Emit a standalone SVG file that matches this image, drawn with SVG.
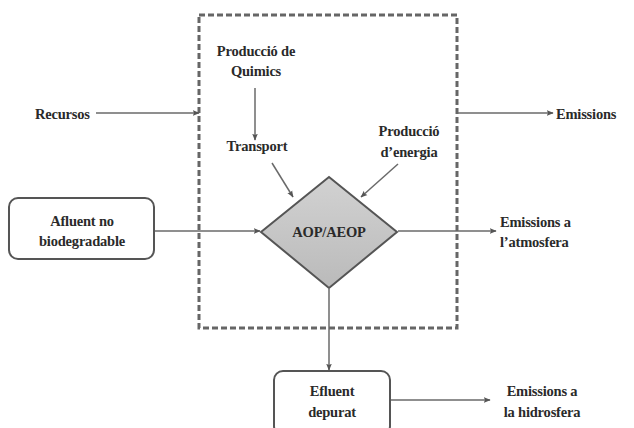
<svg xmlns="http://www.w3.org/2000/svg" width="634" height="428" viewBox="0 0 634 428">
  <style>
    .t { font-family: "Liberation Serif", "DejaVu Serif", serif; font-weight: bold; font-size: 14.5px; fill: #2a2a2a; text-anchor: middle; letter-spacing: -0.2px; }
    .ts { font-family: "Liberation Serif", "DejaVu Serif", serif; font-weight: bold; font-size: 14.5px; fill: #2a2a2a; text-anchor: start; letter-spacing: -0.2px; }
    .c { stroke: #6a6a6a; stroke-width: 1.5; fill: none; marker-end: url(#ah); }
    .box { fill: #fff; stroke: #555; stroke-width: 2; }
  </style>
  <defs>
    <marker id="ah" viewBox="0 0 10 10" refX="9" refY="5" markerWidth="7" markerHeight="7" orient="auto" markerUnits="userSpaceOnUse">
      <path d="M0,1 L10,5 L0,9 L2,5 Z" fill="#555"/>
    </marker>
    <linearGradient id="dg" x1="0" y1="0" x2="0" y2="1">
      <stop offset="0" stop-color="#d2d2d2"/>
      <stop offset="1" stop-color="#bababa"/>
    </linearGradient>
  </defs>

  <rect width="634" height="428" fill="#fff"/>

  <!-- system boundary -->
  <rect id="boundary" x="199" y="15" width="258" height="313" fill="none" stroke="#666" stroke-width="3" stroke-dasharray="6 3"/>

  <g id="connectors">
    <line class="c" x1="96" y1="113" x2="199" y2="113"/>
    <line class="c" x1="458" y1="113" x2="553" y2="113"/>
    <line class="c" x1="255" y1="88" x2="255" y2="140"/>
    <line class="c" x1="272" y1="163" x2="293" y2="197"/>
    <line class="c" x1="398" y1="164" x2="361" y2="197"/>
    <line class="c" x1="154" y1="231" x2="260" y2="231"/>
    <line class="c" x1="398" y1="231" x2="496" y2="231"/>
    <line class="c" x1="329" y1="289" x2="329" y2="370"/>
    <line class="c" x1="391" y1="400" x2="490" y2="400"/>
  </g>

  <g id="recursos"><text class="ts" x="35" y="119">Recursos</text></g>
  <g id="emissions"><text class="ts" x="556" y="119">Emissions</text></g>

  <g id="produccio-quimics">
    <text class="t" x="256" y="56">Producció de</text>
    <text class="t" x="256" y="76">Quimics</text>
  </g>
  <g id="transport"><text class="t" x="257" y="151">Transport</text></g>
  <g id="produccio-energia">
    <text class="t" x="409" y="136">Producció</text>
    <text class="t" x="409" y="157">d’energia</text>
  </g>

  <g id="afluent">
    <rect class="box" x="9" y="198" width="145" height="61" rx="9"/>
    <text class="t" x="82" y="226">Afluent no</text>
    <text class="t" x="82" y="246">biodegradable</text>
  </g>

  <g id="aop">
    <path d="M329,177 L397,232 L329,288 L261,232 Z" fill="url(#dg)" stroke="#555" stroke-width="2"/>
    <text class="t" x="329" y="237">AOP/AEOP</text>
  </g>

  <g id="emissions-atm">
    <text class="ts" x="500" y="227">Emissions a</text>
    <text class="ts" x="500" y="247">l’atmosfera</text>
  </g>

  <g id="efluent">
    <rect class="box" x="274" y="371" width="116" height="64" rx="9"/>
    <text class="t" x="332" y="396">Efluent</text>
    <text class="t" x="332" y="417">depurat</text>
  </g>

  <g id="emissions-hidro">
    <text class="t" x="542" y="396">Emissions a</text>
    <text class="t" x="542" y="417">la hidrosfera</text>
  </g>
</svg>
